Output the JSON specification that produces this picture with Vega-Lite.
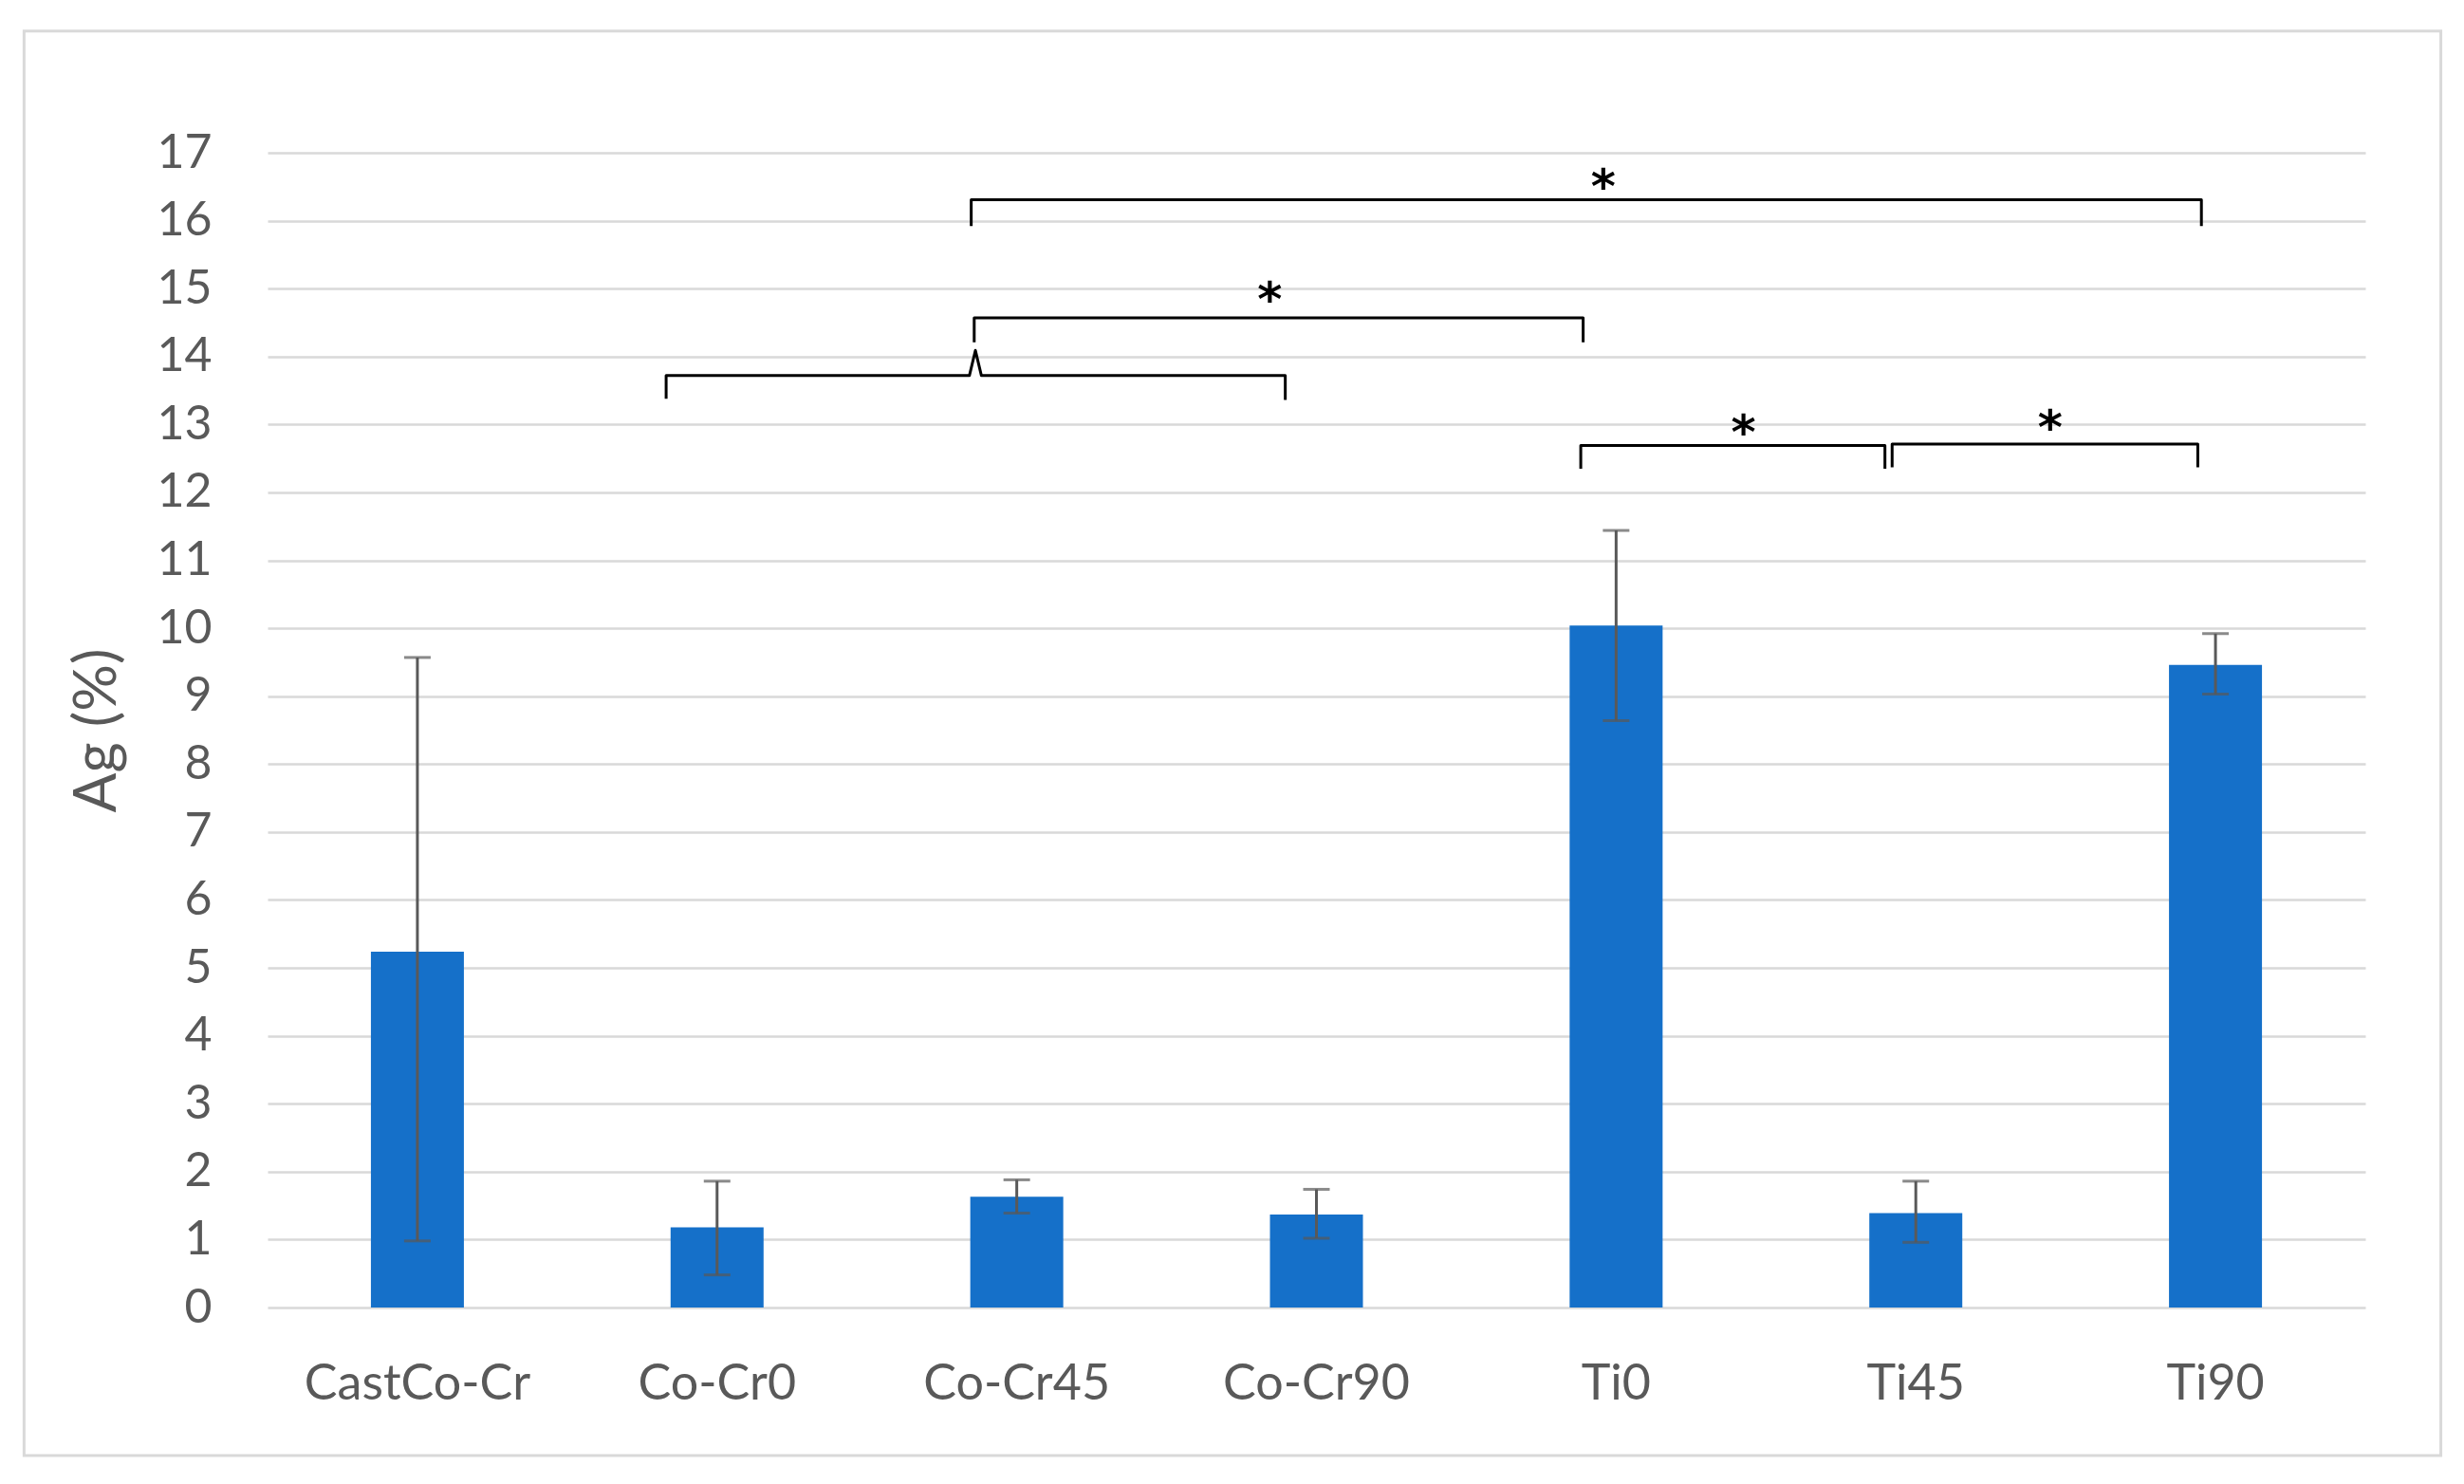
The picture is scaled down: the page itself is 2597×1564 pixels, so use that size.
{
  "$schema": "https://vega.github.io/schema/vega-lite/v6.json",
  "width": 2211,
  "height": 1217,
  "autosize": {"type": "none"},
  "padding": {"left": 282, "top": 161, "right": 104, "bottom": 186},
  "background": "white",
  "config": {
    "view": {"stroke": null},
    "font": "Lato",
    "axis": {"labelColor": "#595959", "titleColor": "#595959", "domain": false, "ticks": false}
  },
  "datasets": {
    "bars": [
      {"Sample": "CastCo-Cr", "Ag": 5.24, "lo": 0.98, "hi": 9.57},
      {"Sample": "Co-Cr0", "Ag": 1.18, "lo": 0.48, "hi": 1.86},
      {"Sample": "Co-Cr45", "Ag": 1.63, "lo": 1.39, "hi": 1.88},
      {"Sample": "Co-Cr90", "Ag": 1.37, "lo": 1.02, "hi": 1.74},
      {"Sample": "Ti0", "Ag": 10.04, "lo": 8.64, "hi": 11.44},
      {"Sample": "Ti45", "Ag": 1.39, "lo": 0.96, "hi": 1.86},
      {"Sample": "Ti90", "Ag": 9.46, "lo": 9.03, "hi": 9.92}
    ],
    "brackets": [
      {"bid": "b1", "ord": 1, "bx": 2.348, "by": 15.92},
      {"bid": "b1", "ord": 2, "bx": 2.348, "by": 16.31},
      {"bid": "b1", "ord": 3, "bx": 6.453, "by": 16.31},
      {"bid": "b1", "ord": 4, "bx": 6.453, "by": 15.92},
      {"bid": "b2", "ord": 1, "bx": 2.358, "by": 14.21},
      {"bid": "b2", "ord": 2, "bx": 2.358, "by": 14.57},
      {"bid": "b2", "ord": 3, "bx": 4.39, "by": 14.57},
      {"bid": "b2", "ord": 4, "bx": 4.39, "by": 14.21},
      {"bid": "b3", "ord": 1, "bx": 1.33, "by": 13.38},
      {"bid": "b3", "ord": 2, "bx": 1.33, "by": 13.72},
      {"bid": "b3", "ord": 3, "bx": 2.342, "by": 13.72},
      {"bid": "b3", "ord": 4, "bx": 2.362, "by": 14.09},
      {"bid": "b3", "ord": 5, "bx": 2.382, "by": 13.72},
      {"bid": "b3", "ord": 6, "bx": 3.396, "by": 13.72},
      {"bid": "b3", "ord": 7, "bx": 3.396, "by": 13.36},
      {"bid": "b4", "ord": 1, "bx": 4.382, "by": 12.35},
      {"bid": "b4", "ord": 2, "bx": 4.382, "by": 12.69},
      {"bid": "b4", "ord": 3, "bx": 5.397, "by": 12.69},
      {"bid": "b4", "ord": 4, "bx": 5.397, "by": 12.35},
      {"bid": "b5", "ord": 1, "bx": 5.421, "by": 12.37},
      {"bid": "b5", "ord": 2, "bx": 5.421, "by": 12.71},
      {"bid": "b5", "ord": 3, "bx": 6.441, "by": 12.71},
      {"bid": "b5", "ord": 4, "bx": 6.441, "by": 12.37}
    ],
    "stars": [
      {"sx": 4.457, "sy": 16.62, "label": "*"},
      {"sx": 3.344, "sy": 14.96, "label": "*"},
      {"sx": 4.925, "sy": 13.0, "label": "*"},
      {"sx": 5.948, "sy": 13.07, "label": "*"}
    ],
    "frame": [
      {"x0": -0.8125, "x1": 7.252, "y0": 18.79, "y1": -2.18}
    ]
  },
  "encoding": {
    "y": {
      "type": "quantitative",
      "scale": {"domain": [0, 17], "nice": false},
      "axis": {
        "title": "Ag (%)", "titleFontSize": 62, "titleFontWeight": "normal", "titlePadding": 30,
        "values": [0,1,2,3,4,5,6,7,8,9,10,11,12,13,14,15,16,17],
        "labelFontSize": 50, "labelPadding": 59,
        "grid": true, "gridColor": "#d9d9d9", "gridWidth": 2.5
      }
    }
  },
  "layer": [
    {
      "data": {"name": "bars"},
      "encoding": {
        "x": {
          "field": "Sample", "type": "nominal", "sort": null,
          "scale": {"paddingInner": 0, "paddingOuter": 0},
          "axis": {"title": null, "labelAngle": 0, "labelFontSize": 52, "labelPadding": 55, "labelLimit": 0, "grid": false}
        }
      },
      "layer": [
        {
          "mark": {"type": "bar", "color": "#1570c9", "size": 98},
          "encoding": {"y": {"field": "Ag"}}
        },
        {
          "mark": {"type": "rule", "color": "#595959", "strokeWidth": 3},
          "encoding": {"y": {"field": "lo"}, "y2": {"field": "hi"}}
        },
        {
          "mark": {"type": "tick", "color": "#595959", "thickness": 3, "size": 28, "orient": "horizontal"},
          "encoding": {"y": {"field": "lo"}}
        },
        {
          "mark": {"type": "tick", "color": "#595959", "thickness": 3, "size": 28, "orient": "horizontal"},
          "encoding": {"y": {"field": "hi"}}
        }
      ]
    },
    {
      "data": {"name": "brackets"},
      "mark": {"type": "line", "color": "black", "strokeWidth": 3, "strokeJoin": "round"},
      "encoding": {
        "x": {"field": "bx", "type": "quantitative", "scale": {"domain": [0, 7]}, "axis": null},
        "y": {"field": "by"},
        "detail": {"field": "bid"},
        "order": {"field": "ord"}
      }
    },
    {
      "data": {"name": "stars"},
      "mark": {"type": "text", "font": "DejaVu Sans", "fontSize": 50, "fontWeight": "bold", "color": "black", "baseline": "middle", "dy": 11},
      "encoding": {
        "x": {"field": "sx", "type": "quantitative", "scale": {"domain": [0, 7]}, "axis": null},
        "y": {"field": "sy"},
        "text": {"field": "label"}
      }
    },
    {
      "data": {"name": "frame"},
      "mark": {"type": "rect", "fill": null, "stroke": "#d9d9d9", "strokeWidth": 3, "clip": false},
      "encoding": {
        "x": {"field": "x0", "type": "quantitative", "scale": {"domain": [0, 7]}, "axis": null},
        "x2": {"field": "x1"},
        "y": {"field": "y0"},
        "y2": {"field": "y1"}
      }
    }
  ],
  "resolve": {"scale": {"x": "independent"}}
}
